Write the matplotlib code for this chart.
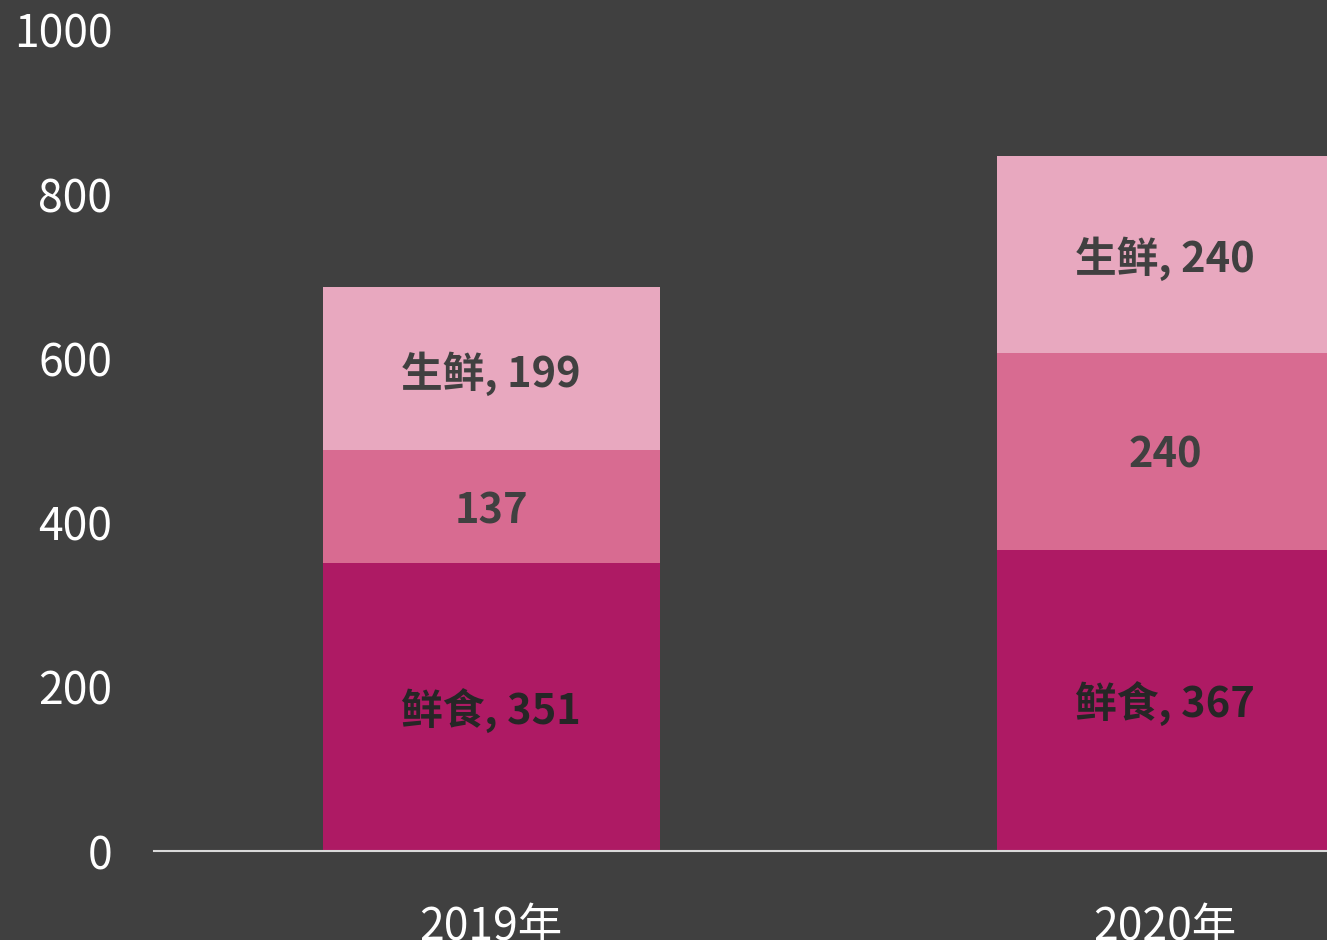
import matplotlib
matplotlib.use('Agg')
from matplotlib import pyplot as plt

plt.rcParams['font.family'] = ['Noto Sans CJK SC', 'DejaVu Sans']

years = ['2019年', '2020年']
fresh_food = [351, 367]   # 鲜食
middle = [137, 240]
fresh = [199, 240]        # 生鲜

bg = '#404040'
c_bottom = '#AE1A64'
c_mid = '#D86B91'
c_top = '#E8A8BF'

fig = plt.figure(figsize=(13.27, 9.4), dpi=100, facecolor=bg)
ax = fig.add_axes([154 / 1327, 89 / 940, 1348 / 1327, 821 / 940], facecolor=bg)

x = list(range(len(years)))
w = 0.5
ax.bar(x, fresh_food, width=w, color=c_bottom)
bottom2 = [a for a in fresh_food]
ax.bar(x, middle, width=w, bottom=bottom2, color=c_mid)
bottom3 = [a + b for a, b in zip(fresh_food, middle)]
ax.bar(x, fresh, width=w, bottom=bottom3, color=c_top)

lab = dict(ha='center', va='center_baseline', fontsize=30, fontweight='bold')
for i in x:
    ax.text(i, fresh_food[i] / 2, '鲜食, %d' % fresh_food[i], color='#262626', **lab)
    ax.text(i, bottom2[i] + middle[i] / 2, '%d' % middle[i], color='#404040', **lab)
    ax.text(i, bottom3[i] + fresh[i] / 2, '生鲜, %d' % fresh[i], color='#404040', **lab)

ax.set_xlim(-0.5, 1.5)
ax.set_ylim(0, 1000)
ax.set_yticks([0, 200, 400, 600, 800, 1000])
ax.set_xticks(x)
ax.set_xticklabels(years)
ax.tick_params(axis='both', length=0, labelsize=32, colors='white')
ax.tick_params(axis='y', pad=30)
ax.tick_params(axis='x', pad=38)
for s in ['top', 'right', 'left']:
    ax.spines[s].set_visible(False)
ax.spines['bottom'].set_color('#D9D9D9')
ax.spines['bottom'].set_linewidth(1.5)

fig.savefig('out.png', dpi=100, facecolor=bg)
